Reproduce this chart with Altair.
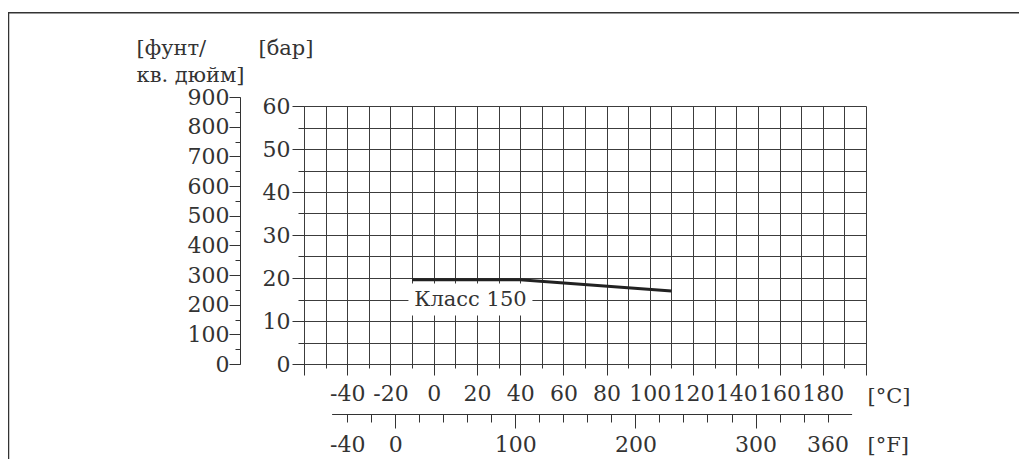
import altair as alt
import pandas as pd

# ---- data ----
temp_c = [-10, 40, 110]          # Класс 150 curve, °C
pressure_bar = [19.6, 19.6, 17.0]  # bar
curve_label = ["Класс 150"]
label_c = [17]
label_bar = [15]

c_domain = [-60, 200]
bar_domain = [0, 60]
psi_domain = [0, 900]
f_domain = [-53, 380]

c_grid = list(range(-60, 201, 10))
c_major = list(range(-60, 201, 20))
c_labels = list(range(-40, 181, 20))
bar_grid = list(range(0, 61, 5))
bar_major = list(range(0, 61, 10))
psi_minor = list(range(0, 901, 50))
psi_major = list(range(0, 901, 100))
f_minor = list(range(-40, 361, 20))
f_major = [0, 100, 200, 300]
f_labels = [-40, 0, 100, 200, 300, 360]

# ---- layout ----
W, H = 562, 258
PAD = {"left": 296, "top": 98, "right": 153, "bottom": 95}
PSI_PER_BAR = 14.5038
INK = "#333333"
GRID = "#3c3c3c"
FONT = "DejaVu Serif"
FS = 22
FS_T = 21


def c_px(c):
    return (c - c_domain[0]) / (c_domain[1] - c_domain[0]) * W


def f_to_c(f):
    return (f - 32) * 5 / 9


psi_top_px = H - psi_domain[1] / PSI_PER_BAR / bar_domain[1] * H
f_range = [c_px(f_to_c(f_domain[0])), c_px(f_to_c(f_domain[1]))]

df = pd.DataFrame({"c": temp_c, "bar": pressure_bar})
df["psi"] = df["bar"] * PSI_PER_BAR
df["f"] = df["c"] * 9 / 5 + 32
lab = pd.DataFrame({"c": label_c, "bar": label_bar, "t": curve_label})
one = pd.DataFrame({"k": [0]})

STYLE = dict(
    domainColor=INK, tickColor=INK, labelColor=INK, labelFont=FONT,
    labelFontSize=FS, titleFont=FONT, titleFontSize=FS_T, titleColor=INK,
    titleFontWeight="normal", tickWidth=1, domainWidth=1,
    labelOverlap=False, labelFlush=False, labelBound=False,
    gridColor=GRID, gridWidth=1, gridOpacity=1,
)


def ax(**kw):
    d = dict(STYLE)
    d.setdefault("grid", False)
    d.update(kw)
    if "title" not in d:
        d["title"] = None
    return alt.Axis(**d)


def cx(axis=None):
    return alt.X("c:Q", scale=alt.Scale(domain=c_domain, nice=False, zero=False), axis=axis)


def by(axis=None):
    return alt.Y("bar:Q", scale=alt.Scale(domain=bar_domain, nice=False, zero=False), axis=axis)


def psi_y(axis=None):
    return alt.Y("psi:Q", scale=alt.Scale(domain=psi_domain, range=[H, psi_top_px], nice=False, zero=False), axis=axis)


def f_x(axis=None):
    return alt.X("f:Q", scale=alt.Scale(domain=f_domain, range=f_range, nice=False, zero=False), axis=axis)


LBL = "'' + datum.value"
base = alt.Chart(df).mark_point(opacity=0)

# grid + minor ticks
grid_layer = base.encode(
    x=cx(ax(orient="bottom", values=c_grid, grid=True, tickSize=4, labels=False, domain=False)),
    y=by(ax(orient="left", values=bar_grid, grid=True, tickSize=6, labels=False, domain=False)),
)
# major ticks
major_layer = base.encode(
    x=cx(ax(orient="bottom", values=c_major, tickSize=11, labels=False, domain=False)),
    y=by(ax(orient="left", values=bar_major, tickSize=12, labels=False, domain=False)),
)
# labels + titles (°C, bar)
label_layer = base.encode(
    x=cx(ax(orient="bottom", values=c_labels, tickSize=0, labelPadding=19, labelExpr=LBL,
            domain=False, title="[°C]", titleX=563, titleY=38, titleAlign="left",
            titleBaseline="alphabetic", titleAngle=0)),
    y=by(ax(orient="left", values=bar_major, tickSize=0, labelPadding=14, labelExpr=LBL,
            domain=False, title="[бар]", titleX=-46, titleY=-52, titleAlign="left",
            titleBaseline="alphabetic", titleAngle=0)),
)
# psi axis
psi_minor_layer = base.encode(
    x=cx(None),
    y=psi_y(ax(orient="left", offset=64, values=psi_minor, tickSize=5, labels=False, domain=True)),
)
psi_major_layer = base.encode(
    x=cx(None),
    y=psi_y(ax(orient="left", offset=64, values=psi_major, tickSize=11, labels=False, domain=False)),
)
psi_label_layer = base.encode(
    x=cx(None),
    y=psi_y(ax(orient="left", offset=64, values=psi_major, tickSize=0, labelPadding=11,
               labelExpr=LBL, domain=False, title=["[фунт/", "кв. дюйм]"], titleX=-104,
               titleY=-52, titleAlign="left", titleBaseline="alphabetic", titleAngle=0,
               titleLineHeight=27)),
)
# °F axis
f_minor_layer = base.encode(
    x=f_x(ax(orient="bottom", offset=50, values=f_minor, tickSize=8, labels=False, domain=True)),
    y=by(None),
)
f_major_layer = base.encode(
    x=f_x(ax(orient="bottom", offset=50, values=f_major, tickSize=14, labels=False, domain=False)),
    y=by(None),
)
f_label_layer = base.encode(
    x=f_x(ax(orient="bottom", offset=50, values=f_labels, tickSize=0, labelPadding=20,
             labelExpr=LBL, domain=False, title="[°F]", titleX=563, titleY=37.5,
             titleAlign="left", titleBaseline="alphabetic", titleAngle=0)),
    y=by(None),
)

# label background + text
label_bg = alt.Chart(lab).mark_point(
    shape="M-1,-0.258H1V0.258H-1Z", size=124 * 124, filled=True, color="white", opacity=1, strokeWidth=0
).encode(x=cx(None), y=by(None))
label_text = alt.Chart(lab).mark_text(
    font=FONT, fontSize=FS_T, color=INK, align="center", baseline="middle"
).encode(x=cx(None), y=by(None), text="t:N")

curve = alt.Chart(df).mark_line(color="#222222", strokeWidth=3).encode(x=cx(None), y=by(None))

# outer frame (top and left edges)
frame_top = alt.Chart(one).mark_rule(color=INK, strokeWidth=1.5).encode(
    x=alt.value(-PAD["left"]), x2=alt.value(W + PAD["right"]), y=alt.value(-93.2), y2=alt.value(-93.2)
)
frame_left = alt.Chart(one).mark_rule(color=INK, strokeWidth=1.5).encode(
    x=alt.value(-PAD["left"] + 0.5), x2=alt.value(-PAD["left"] + 0.5), y=alt.value(-93.2), y2=alt.value(H + PAD["bottom"])
)

chart = alt.layer(
    grid_layer, major_layer, label_layer,
    psi_minor_layer, psi_major_layer, psi_label_layer,
    f_minor_layer, f_major_layer, f_label_layer,
    label_bg, label_text, curve, frame_top, frame_left,
).resolve_scale(x="independent", y="independent").resolve_axis(
    x="independent", y="independent"
).properties(
    width=W, height=H, padding=PAD, autosize=alt.AutoSizeParams(type="none"),
    background="white",
).configure_view(stroke=None)

chart.save("out.html", embed_options={"renderer": "svg", "actions": False})
